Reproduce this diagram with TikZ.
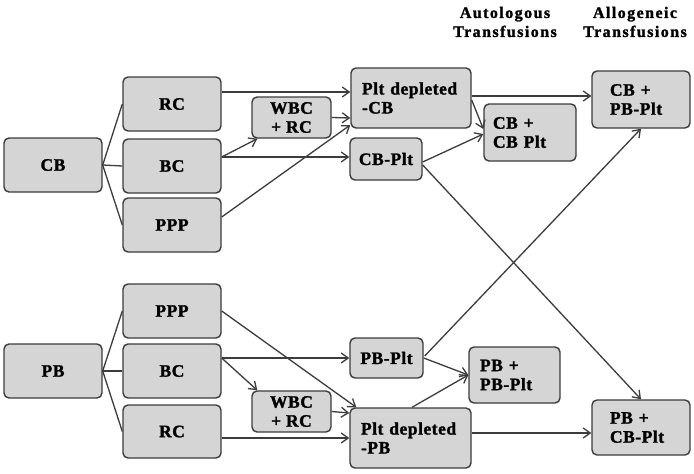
\documentclass[tikz,border=0pt]{standalone}
\usepackage{fontspec}
\setmainfont{Liberation Serif}
\usetikzlibrary{arrows.meta,calc}
\definecolor{boxfill}{RGB}{213,213,213}
\definecolor{edge}{RGB}{60,60,60}
\tikzset{
  box/.style={draw=edge, fill=boxfill, rounded corners=5pt, line width=1.4pt,
    inner sep=0pt, align=center,
    font=\fontsize{17.5}{19}\selectfont\bfseries\addfontfeature{LetterSpace=3,FakeBold=1.5}},
  lbox/.style={box, align=left},
  hdr/.style={align=center, inner sep=0pt,
    font=\fontsize{16}{19}\selectfont\bfseries\addfontfeature{LetterSpace=9,FakeBold=1.5}},
  conn/.style={draw=edge, line width=1.3pt},
  arr/.style={conn, -{Straight Barb[length=7pt,width=10pt,line width=1.3pt]}}
}
\begin{document}
\begin{tikzpicture}[x=1pt,y=-1pt]
\fill[white] (0,0) rectangle (694,474);
\useasboundingbox (0,0) rectangle (694,474);
% headers
\node[hdr] (h1) at (505,22) {Autologous\\Transfusions};
\node[hdr] (h2) at (635,22) {Allogeneic\\Transfusions};
% top group
\node[box, minimum width=98, minimum height=54] (CB) at (53,165) {CB};
\node[box, minimum width=98, minimum height=54] (RC1) at (172,104) {RC};
\node[box, minimum width=98, minimum height=54] (BC1) at (172,166) {BC};
\node[box, minimum width=98, minimum height=54] (PPP1) at (172,225) {PPP};
\node[box, minimum width=79, minimum height=41] (WBC1) at (291.5,117.5) {WBC\\+ RC};
\node[lbox, minimum width=120, minimum height=60, text width=98] (PltCB) at (411,98) {Plt depleted\\-CB};
\node[box, minimum width=72, minimum height=42] (CBPlt) at (386,159) {CB-Plt};
\node[lbox, minimum width=92, minimum height=57, text width=74] (CBCB) at (530,132.5) {CB +\\CB Plt};
\node[lbox, minimum width=98, minimum height=57, text width=62] (CBPB) at (641,99.5) {CB +\\PB-Plt};
% bottom group
\node[box, minimum width=98, minimum height=54] (PB) at (53,371) {PB};
\node[box, minimum width=98, minimum height=54] (PPP2) at (172,311) {PPP};
\node[box, minimum width=98, minimum height=54] (BC2) at (172,371) {BC};
\node[box, minimum width=98, minimum height=53] (RC2) at (172,431.5) {RC};
\node[box, minimum width=79, minimum height=41] (WBC2) at (291.5,411.5) {WBC\\+ RC};
\node[box, minimum width=73, minimum height=40] (PBPlt) at (386.5,358) {PB-Plt};
\node[lbox, minimum width=91, minimum height=56, text width=69] (PBPB) at (514.5,375) {PB +\\PB-Plt};
\node[lbox, minimum width=121, minimum height=60, text width=99] (PltPB) at (410.5,438) {Plt depleted\\-PB};
\node[lbox, minimum width=98, minimum height=55, text width=62] (PBCB) at (641,427.5) {PB +\\CB-Plt};
% fans
\draw[conn] (CB.east) -- (RC1.west);
\draw[conn] (CB.east) -- (BC1.west);
\draw[conn] (CB.east) -- (PPP1.west);
\draw[conn] (PB.east) -- (PPP2.west);
\draw[conn] (PB.east) -- (BC2.west);
\draw[conn] (PB.east) -- (RC2.west);
% top arrows
\draw[arr] ($(RC1.east)+(0,-12)$) -- ($(PltCB.west)+(0,-6)$);
\draw[arr] (WBC1.east) -- ($(PltCB.west)+(0,20)$);
\draw[arr] ($(PPP1.east)+(0,-8)$) -- ($(PltCB.west)+(0,27)$);
\draw[arr] ($(BC1.east)+(0,-9)$) -- ($(WBC1.south west)+(6,0)$);
\draw[arr] ($(BC1.east)+(0,-9)$) -- ($(CBPlt.west)+(0,-2)$);
\draw[arr] ($(PltCB.east)+(0,-2)$) -- ($(CBPB.west)+(0,-3.5)$);
\draw[arr] ($(PltCB.east)+(0,2)$) -- ($(CBCB.west)+(0,-3.5)$);
\draw[arr] ($(CBPlt.east)+(0,3)$) -- ($(CBCB.west)+(0,1.5)$);
\draw[arr] ($(CBPlt.east)+(0,6)$) -- (PBCB.north);
\draw[arr] ($(PBPlt.east)+(1,-2)$) -- (CBPB.south);
% bottom arrows
\draw[arr] (PPP2.east) -- ($(PltPB.north west)+(7,0)$);
\draw[arr] ($(BC2.east)+(0,-13)$) -- (PBPlt.west);
\draw[arr] ($(BC2.east)+(0,-13)$) -- ($(WBC2.north west)+(6,0)$);
\draw[arr] (WBC2.east) -- ($(PltPB.west)+(0,-25)$);
\draw[arr] ($(RC2.east)+(0,6.5)$) -- (PltPB.west);
\draw[arr] (PBPlt.east) -- (PBPB.west);
\draw[arr] ($(PltPB.north)+(1.5,0)$) -- (PBPB.west);
\draw[arr] ($(PltPB.east)+(0,-5)$) -- ($(PBCB.west)+(0,5.5)$);
\end{tikzpicture}
\end{document}
